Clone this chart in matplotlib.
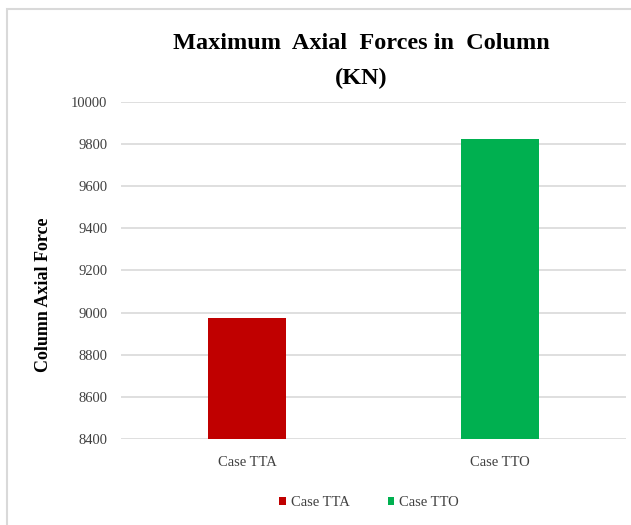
import matplotlib.pyplot as plt
from matplotlib.patches import Rectangle

categories = ["Case TTA", "Case TTO"]
forces = [8975, 9825]
colors = ["#c00000", "#00b050"]
yticks = [8400, 8600, 8800, 9000, 9200, 9400, 9600, 9800, 10000]

plt.rcParams['font.family'] = ['Liberation Serif', 'DejaVu Serif']

fig = plt.figure(figsize=(6.31, 5.25), dpi=100)
ax = fig.add_axes([0.192, 0.164, 0.8, 0.642])

# outer chart border (cut off at right and bottom like the screenshot)
fig.patches.append(Rectangle((7 / 631, -0.1), 1.2, 1 - 9 / 525 + 0.1,
                             transform=fig.transFigure, fill=False,
                             edgecolor="#d9d9d9", linewidth=1.5))

x = range(len(categories))
bars = ax.bar(x, forces, width=0.31, color=colors, bottom=0)
ax.set_ylim(8400, 10000)
ax.set_xlim(-0.5, 1.5)
ax.set_yticks(yticks)
ax.set_yticklabels([str(v) for v in yticks], fontsize=10.5, color="#404040")
ax.set_xticks(list(x))
ax.set_xticklabels(categories, fontsize=10.5, color="#404040")
ax.tick_params(length=0, pad=10)
ax.tick_params(axis='x', pad=12)
ax.grid(axis='y', color="#d9d9d9", linewidth=1.2)
ax.set_axisbelow(True)
for s in ax.spines.values():
    s.set_visible(False)

fig.text(43 / 631, 1 - 295 / 525, "Column Axial Force", rotation=90, ha='center', va='center',
         fontsize=13, fontweight='bold')

fig.text(0.572, 0.918, "Maximum  Axial  Forces in  Column", ha='center', va='center',
         fontsize=17.5, fontweight='bold')
fig.text(0.572, 0.85, "(KN)", ha='center', va='center', fontsize=17.5, fontweight='bold')

leg = fig.legend(bars, categories, loc='center', bbox_to_anchor=(0.585, 0.042), ncol=2,
                 frameon=False, fontsize=10.5, handlelength=0.45, handleheight=0.45,
                 handletextpad=0.35, columnspacing=2.6)
for t in leg.get_texts():
    t.set_color("#404040")

fig.savefig("out.png", dpi=100)
